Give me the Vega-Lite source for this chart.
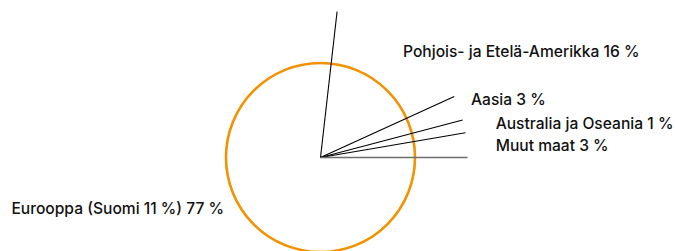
{
  "$schema": "https://vega.github.io/schema/vega-lite/v6.json",
  "width": 641,
  "height": 315,
  "autosize": {"type": "none"},
  "padding": {"left": 0, "top": 0, "right": 34, "bottom": 0},
  "background": "white",
  "config": {"view": {"stroke": null}, "text": {"font": "Inter", "fontSize": 15.6, "fontWeight": 500, "color": "#111111", "baseline": "alphabetic"}},
  "data": {
    "values": [
      {"order": 1, "region": "Eurooppa", "value": 76.8, "label": "Eurooppa (Suomi 11 %) 77 %"},
      {"order": 2, "region": "Amerikka", "value": 16.4, "label": "Pohjois- ja Etelä-Amerikka 16 %"},
      {"order": 3, "region": "Aasia", "value": 2.7, "label": "Aasia 3 %"},
      {"order": 4, "region": "Australia", "value": 1.4, "label": "Australia ja Oseania 1 %"},
      {"order": 5, "region": "Muut", "value": 2.7, "label": "Muut maat 3 %"}
    ]
  },
  "transform": [
    {"stack": "value", "groupby": [], "sort": [{"field": "order", "order": "ascending"}], "as": ["v0", "v1"]}
  ],
  "layer": [
    {
      "mark": {"type": "arc", "radius": 94.5, "filled": false, "stroke": "#F39200", "strokeWidth": 2.6, "fill": null},
      "encoding": {
        "theta": {"aggregate": "sum", "field": "value", "type": "quantitative", "stack": true,
                  "scale": {"domain": [0, 100], "range": [1.5708, 7.854]}}
      }
    },
    {
      "mark": {"type": "point", "shape": "M0,0L2,0", "size": 21609, "filled": false, "opacity": 1},
      "encoding": {
        "angle": {"field": "v1", "type": "quantitative", "scale": {"domain": [0, 100], "range": [0, 360]}, "legend": null},
        "stroke": {"condition": {"test": "datum.region === 'Muut'", "value": "#6e6e6e"}, "value": "#000000"},
        "strokeWidth": {"condition": {"test": "datum.region === 'Muut'", "value": 1.6}, "value": 1.1}
      }
    },
    {
      "transform": [{"filter": "datum.region === 'Eurooppa'"}],
      "mark": {"type": "text", "radius": 0, "align": "right", "dx": -96.5, "dy": 56.5},
      "encoding": {
        "theta": {"field": "v0", "type": "quantitative", "scale": {"domain": [0, 100], "range": [1.5708, 7.854]}},
        "text": {"field": "label"}
      }
    },
    {
      "transform": [{"filter": "datum.region === 'Amerikka'"}],
      "mark": {"type": "text", "radius": 147, "align": "left", "dx": 65.9, "dy": 45.9},
      "encoding": {
        "theta": {"field": "v0", "type": "quantitative", "scale": {"domain": [0, 100], "range": [1.5708, 7.854]}},
        "text": {"field": "label"}
      }
    },
    {
      "transform": [{"filter": "datum.region === 'Aasia'"}],
      "mark": {"type": "text", "radius": 147, "align": "left", "dx": 16.7, "dy": 8.7},
      "encoding": {
        "theta": {"field": "v0", "type": "quantitative", "scale": {"domain": [0, 100], "range": [1.5708, 7.854]}},
        "text": {"field": "label"}
      }
    },
    {
      "transform": [{"filter": "datum.region === 'Australia'"}],
      "mark": {"type": "text", "radius": 147, "align": "left", "dx": 33, "dy": 9.3},
      "encoding": {
        "theta": {"field": "v0", "type": "quantitative", "scale": {"domain": [0, 100], "range": [1.5708, 7.854]}},
        "text": {"field": "label"}
      }
    },
    {
      "transform": [{"filter": "datum.region === 'Muut'"}],
      "mark": {"type": "text", "radius": 147, "align": "left", "dx": 30.3, "dy": 18.6},
      "encoding": {
        "theta": {"field": "v0", "type": "quantitative", "scale": {"domain": [0, 100], "range": [1.5708, 7.854]}},
        "text": {"field": "label"}
      }
    }
  ]
}
